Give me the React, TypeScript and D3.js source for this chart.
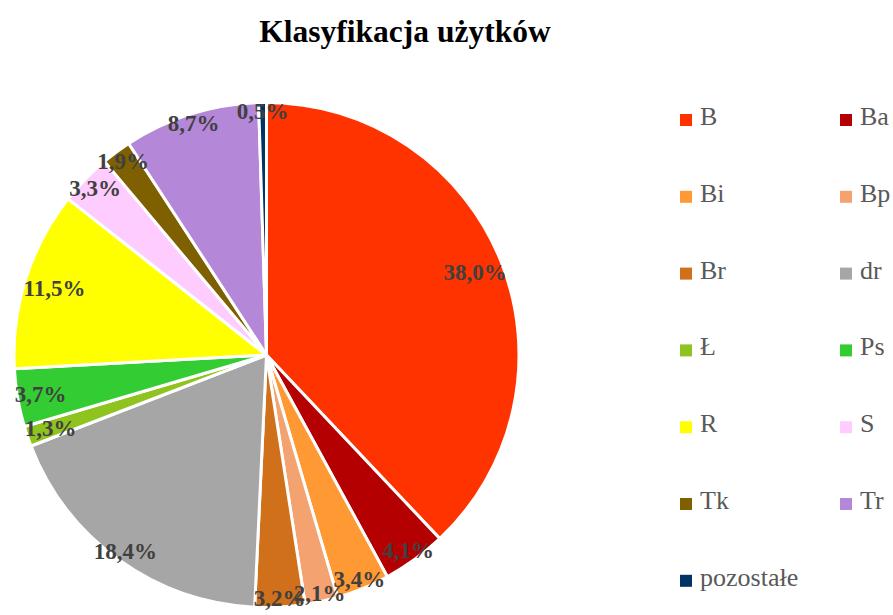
import React from "react";
import * as d3 from "d3";

const categories = ["B", "Ba", "Bi", "Bp", "Br", "dr", "Ł", "Ps", "R", "S", "Tk", "Tr", "pozostałe"];
const values = [38.0, 4.1, 3.4, 2.1, 3.2, 18.4, 1.3, 3.7, 11.5, 3.3, 1.9, 8.7, 0.5];
const colors = ["#FF3300", "#B40000", "#FF9933", "#F4A270", "#D0701A", "#A6A6A6", "#8FC31F", "#33CC33", "#FFFF00", "#FFCCFF", "#7F6000", "#B487D9", "#003366"];
const title = "Klasyfikacja użytków";

const W = 893;
const H = 615;
const cx = 266.5;
const cy = 355;
const R = 252.5;
const labelFs = 23;

function fmt(v: number) {
  return v.toFixed(1).replace(".", ",") + "%";
}

function textWidth(s: string, fs: number) {
  let w = 0;
  for (const ch of s) {
    if (ch === ",") w += 0.25;
    else if (ch === "%") w += 1.0;
    else w += 0.5;
  }
  return w * fs;
}

export default function App() {
  const pie = d3
    .pie<number>()
    .sort(null)
    .value((d) => d)
    .startAngle(0)
    .endAngle(2 * Math.PI);
  const arcs = pie(values);
  const arcGen = d3.arc<d3.PieArcDatum<number>>().innerRadius(0).outerRadius(R);

  const legendRowH = 76.8;
  const legendTop = 120;
  const colX = [680, 840];

  return (
    <svg
      width={W}
      height={H}
      style={{ position: "absolute", left: 0, top: 0, background: "#fff" }}
      fontFamily="'Liberation Serif', 'Times New Roman', serif"
    >
      <text x={405} y={42} textAnchor="middle" fontSize={31.5} fontWeight="bold" fill="#000">
        {title}
      </text>
      <g transform={`translate(${cx},${cy})`}>
        {arcs.map((a, i) => (
          <path key={i} d={arcGen(a) || ""} fill={colors[i]} stroke="#fff" strokeWidth={3} strokeLinejoin="round" />
        ))}
        {arcs.map((a, i) => {
          const mid = (a.startAngle + a.endAngle) / 2;
          const s = Math.sin(mid);
          const c = Math.cos(mid);
          const label = fmt(values[i]);
          const hw = textWidth(label, labelFs) / 2;
          const hh = labelFs * 0.5;
          const edge = Math.min(Math.abs(s) > 1e-6 ? hw / Math.abs(s) : Infinity, Math.abs(c) > 1e-6 ? hh / Math.abs(c) : Infinity);
          const d = R + 3 - edge;
          return (
            <text
              key={"l" + i}
              x={d * s}
              y={-d * c}
              dy="0.34em"
              textAnchor="middle"
              fontSize={labelFs}
              fontWeight="bold"
              fill="#404040"
            >
              {label}
            </text>
          );
        })}
      </g>
      <g>
        {categories.map((cat, i) => {
          const row = Math.floor(i / 2);
          const col = i % 2;
          const y = legendTop + row * legendRowH;
          return (
            <g key={"lg" + i}>
              <rect x={colX[col]} y={y - 6} width={12} height={12} fill={colors[i]} />
              <text x={colX[col] + 20} y={y + 5} fontSize={26} fill="#595959">
                {cat}
              </text>
            </g>
          );
        })}
      </g>
    </svg>
  );
}
